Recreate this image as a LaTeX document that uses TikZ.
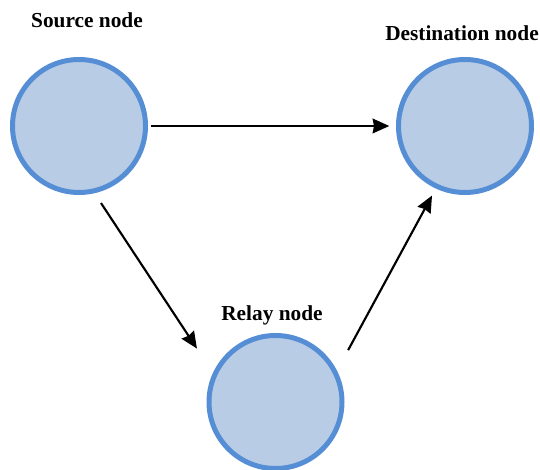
\documentclass[tikz,border=0pt]{standalone}
\usepackage{fontspec}
\setmainfont{Liberation Serif}
\usetikzlibrary{arrows.meta}
\definecolor{nodefill}{RGB}{184,205,229}
\definecolor{nodeline}{RGB}{85,142,213}
\begin{document}
\begin{tikzpicture}[x=0.75pt,y=-0.75pt,>={Stealth[length=12.5pt,width=11pt,inset=1pt]},
  station/.style={circle,draw=nodeline,fill=nodefill,line width=3.75pt,minimum size=99.75pt,inner sep=0pt},
  lbl/.style={anchor=base,inner sep=0pt,font=\fontsize{16}{19}\selectfont\bfseries}]
\useasboundingbox (0,0) rectangle (540,470);
\node[station] (src) at (79,126) {};
\node[station] (dst) at (465,126) {};
\node[station] (rly) at (275.5,402) {};
\node[lbl] (srclbl) at (87,27.3) {Source node};
\node[lbl] (dstlbl) at (462,40.7) {Destination node};
\node[lbl] (rlylbl) at (272,320.7) {Relay node};

\draw[->,line width=1.6pt,shorten <=2.5pt,shorten >=5pt] (src.0) -- (dst.180);
\draw[->,line width=1.6pt,shorten <=8.8pt,shorten >=21.8pt] (src.-77) -- (rly.155);
\draw[->,line width=1.6pt,shorten <=17.5pt,shorten >=6pt] (rly.27) -- (dst.-115);
\end{tikzpicture}
\end{document}
